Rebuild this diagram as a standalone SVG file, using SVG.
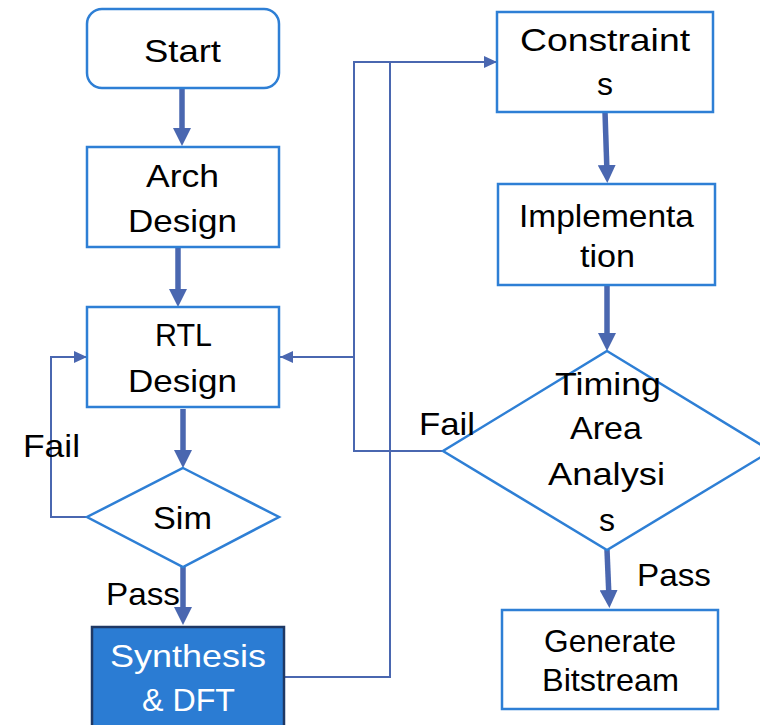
<svg xmlns="http://www.w3.org/2000/svg" width="760" height="725" viewBox="0 0 760 725">
<style>
.node{fill:#ffffff;stroke:#2E7FD5;stroke-width:2.5}
.syn{fill:#2B7CD3;stroke:#1F3864;stroke-width:2.5}
.t{font-family:"Liberation Sans",Arial,sans-serif;font-size:32px;fill:#000000}
.tw{font-family:"Liberation Sans",Arial,sans-serif;font-size:32px;fill:#ffffff}
.thick{fill:none;stroke:#4A67B0;stroke-width:5.5}
.thin{fill:none;stroke:#4A67B0;stroke-width:2}
</style>
<defs>
<marker id="ah" markerUnits="userSpaceOnUse" markerWidth="18" markerHeight="18" refX="8" refY="9" orient="auto">
<path d="M0,0 L18,9 L0,18 z" fill="#4A67B0"/>
</marker>
<marker id="as" markerUnits="userSpaceOnUse" markerWidth="14" markerHeight="12" refX="13" refY="6" orient="auto">
<path d="M0,0 L13,6 L0,12 z" fill="#4A67B0"/>
</marker>
</defs>
<rect width="760" height="725" fill="#ffffff"/>
<g id="connectors">
<path class="thick" d="M182,88 L182,136" marker-end="url(#ah)"/>
<path class="thick" d="M178,247 L178,297" marker-end="url(#ah)"/>
<path class="thick" d="M183,409 L183,458" marker-end="url(#ah)"/>
<path class="thick" d="M183,567 L183,615" marker-end="url(#ah)"/>
<path class="thick" d="M605,112 L607,173" marker-end="url(#ah)"/>
<path class="thick" d="M607,286 L607,341" marker-end="url(#ah)"/>
<path class="thick" d="M607,550 L609,598" marker-end="url(#ah)"/>
<path class="thin" d="M87,517 L51,517 L51,357 L87,357" marker-end="url(#as)"/>
<path class="thin" d="M443,451 L354,451 L354,357 L280,357" marker-end="url(#as)"/>
<path class="thin" d="M354,357 L354,62 L390,62"/>
<path class="thin" d="M285,677 L390,677 L390,62 L497,62" marker-end="url(#as)"/>
</g>
<g id="start">
<rect class="node" x="87" y="9" width="192" height="79" rx="15"/>
<text class="t" x="144" y="62" textLength="77" lengthAdjust="spacingAndGlyphs">Start</text>
</g>
<g id="arch">
<rect class="node" x="87" y="147" width="192" height="100"/>
<text class="t" x="146" y="187" textLength="73" lengthAdjust="spacingAndGlyphs">Arch</text>
<text class="t" x="128" y="232" textLength="109" lengthAdjust="spacingAndGlyphs">Design</text>
</g>
<g id="rtl">
<rect class="node" x="87" y="307" width="192" height="100"/>
<text class="t" x="155" y="346" textLength="57" lengthAdjust="spacingAndGlyphs">RTL</text>
<text class="t" x="128" y="392" textLength="109" lengthAdjust="spacingAndGlyphs">Design</text>
</g>
<g id="sim">
<polygon class="node" points="183,468 279,517 183,567 87,517"/>
<text class="t" x="153" y="529" textLength="59" lengthAdjust="spacingAndGlyphs">Sim</text>
</g>
<g id="synthesis">
<rect class="syn" x="92" y="627" width="192" height="110"/>
<text class="tw" x="110" y="667" textLength="156" lengthAdjust="spacingAndGlyphs">Synthesis</text>
<text class="tw" x="142" y="711" textLength="93" lengthAdjust="spacingAndGlyphs">&amp; DFT</text>
</g>
<g id="constraints">
<rect class="node" x="497" y="12" width="216" height="100"/>
<text class="t" x="520" y="51" textLength="170" lengthAdjust="spacingAndGlyphs">Constraint</text>
<text class="t" x="605" y="95" text-anchor="middle">s</text>
</g>
<g id="implementation">
<rect class="node" x="498" y="184" width="217" height="101"/>
<text class="t" x="519" y="227" textLength="175" lengthAdjust="spacingAndGlyphs">Implementa</text>
<text class="t" x="580" y="267" textLength="55" lengthAdjust="spacingAndGlyphs">tion</text>
</g>
<g id="timing">
<polygon class="node" points="607,351 771,451 607,550 443,451"/>
<text class="t" x="555" y="395" textLength="106" lengthAdjust="spacingAndGlyphs">Timing</text>
<text class="t" x="570" y="439" textLength="72" lengthAdjust="spacingAndGlyphs">Area</text>
<text class="t" x="548" y="485" textLength="117" lengthAdjust="spacingAndGlyphs">Analysi</text>
<text class="t" x="607" y="531" text-anchor="middle">s</text>
</g>
<g id="bitstream">
<rect class="node" x="502" y="610" width="216" height="99"/>
<text class="t" x="544" y="652" textLength="132" lengthAdjust="spacingAndGlyphs">Generate</text>
<text class="t" x="542" y="691" textLength="137" lengthAdjust="spacingAndGlyphs">Bitstream</text>
</g>
<g id="labels">
<text class="t" x="23" y="457" textLength="57" lengthAdjust="spacingAndGlyphs">Fail</text>
<text class="t" x="106" y="605" textLength="74" lengthAdjust="spacingAndGlyphs">Pass</text>
<text class="t" x="419" y="435" textLength="56" lengthAdjust="spacingAndGlyphs">Fail</text>
<text class="t" x="637" y="586" textLength="74" lengthAdjust="spacingAndGlyphs">Pass</text>
</g>
</svg>
